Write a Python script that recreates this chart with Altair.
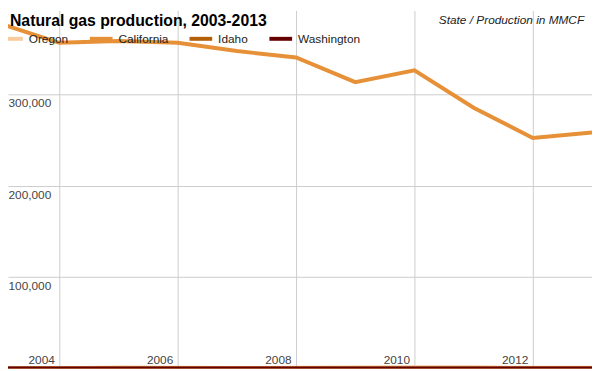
import altair as alt
import pandas as pd

# ---- data ----
years = list(range(2003, 2014))
states = ["Oregon", "California", "Idaho", "Washington"]
state_colors = ["#f9cb9c", "#e69138", "#b45f06", "#660000"]
oregon = [731, 409, 1063, 821, 653, 778, 1124, 1407, 1344, 770, 950]
california = [377000, 356000, 358000, 356000, 347000, 340000, 313000, 326000, 285000, 252000, 258000]
idaho = [0] * 11
washington = [0] * 11

x_ticks = [2004, 2006, 2008, 2010, 2012]
y_ticks = [100000, 200000, 300000]

title_text = "Natural gas production, 2003-2013"
subtitle_text = "State / Production in MMCF"

series = {"Oregon": oregon, "California": california, "Idaho": idaho, "Washington": washington}
rows = []
for s in states:
    for yr, v in zip(years, series[s]):
        rows.append({"year": yr, "value": v, "state": s})
df = pd.DataFrame(rows)

# ---- layout (page margin of 8px eats the first 8px of the frame) ----
W, H = 592, 363
MARGIN = 8
px_per_year = 600 / 10
y_full = 400000
x_domain = [2003 + MARGIN / px_per_year, 2013]
y_domain = [0, y_full * H / 371]

FONT = "Liberation Sans"

lines = alt.Chart(df).mark_line(strokeWidth=4, clip=True).encode(
    x=alt.X("year:Q", scale=alt.Scale(domain=x_domain, nice=False, zero=False),
            axis=alt.Axis(values=x_ticks, format="d", title=None, domain=False, ticks=False,
                          tickSize=0, grid=True, gridColor="#cccccc", gridWidth=1,
                          labelAlign="right", labelBaseline="alphabetic", labelPadding=-5,
                          labelOffset=-5, labelFlush=False, labelFontSize=12,
                          labelColor="#444444", labelFont=FONT)),
    y=alt.Y("value:Q", scale=alt.Scale(domain=y_domain, nice=False),
            axis=alt.Axis(values=y_ticks, format=",d", title=None, domain=False, ticks=False,
                          tickSize=0, grid=True, gridColor="#cccccc", gridWidth=1,
                          labelAlign="left", labelBaseline="top", labelPadding=0,
                          labelOffset=4, labelFlush=False, labelFontSize=12,
                          labelColor="#444444", labelFont=FONT)),
    color=alt.Color("state:N", sort=states,
                    scale=alt.Scale(domain=states, range=state_colors),
                    legend=alt.Legend(orient="none", legendX=-10, legendY=15,
                                      direction="horizontal", title=None,
                                      symbolType="stroke", symbolSize=529,
                                      symbolStrokeWidth=4, labelFontSize=12,
                                      labelFont=FONT, labelColor="#222222",
                                      labelOffset=4, columnPadding=13, padding=0)),
    order=alt.Order("year:Q"),
    detail="state:N",
)

title = alt.Chart(pd.DataFrame({"t": [title_text]})).mark_text(
    align="left", baseline="alphabetic", fontSize=16, fontWeight="bold", font=FONT, color="#000000"
).encode(x=alt.value(2), y=alt.value(16), text="t:N")

subtitle = alt.Chart(pd.DataFrame({"t": [subtitle_text]})).mark_text(
    align="right", baseline="alphabetic", fontSize=12, fontStyle="italic", font=FONT, color="#222222"
).encode(x=alt.value(584), y=alt.value(14), text="t:N")

chart = alt.layer(lines, title, subtitle).properties(
    width=W, height=H, padding=0, autosize=alt.AutoSizeParams(type="none"),
    background="white"
).configure_view(stroke=None)

chart.save("out.html", embed_options={"renderer": "svg", "actions": False})
